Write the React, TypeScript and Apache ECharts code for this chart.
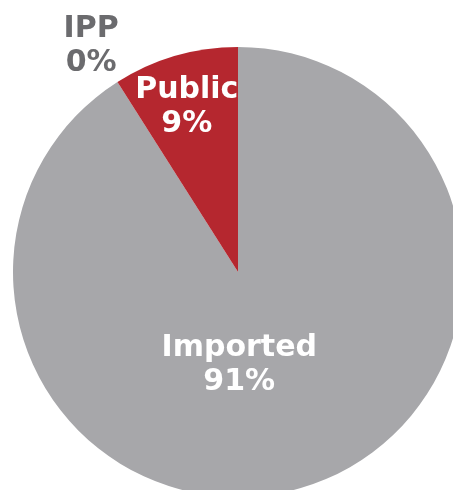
import React, { useEffect, useRef } from "react";
import * as echarts from "echarts";

const categories = ["Imported", "IPP", "Public"];
const values = [91, 0, 9];
const colors = ["#A7A7AA", "#A7A7AA", "#B5272F"];
const labelColors = ["#FFFFFF", "#6B6B6E", "#FFFFFF"];
const labelOffsets: [number, number][] = [[-31, -20], [-85, -131], [-19, -57]];

export default function App() {
  const ref = useRef<HTMLDivElement>(null);
  useEffect(() => {
    if (!ref.current) return;
    const chart = echarts.init(ref.current, undefined, { renderer: "svg" });
    chart.setOption({
      animation: false,
      series: [
        {
          type: "pie",
          center: [238, 272],
          radius: [0, 225],
          startAngle: 90,
          clockwise: true,
          minShowLabelAngle: -1,
          stillShowZeroSum: true,
          avoidLabelOverlap: false,
          labelLine: { show: false },
          itemStyle: { borderWidth: 0 },
          emphasis: { disabled: true },
          data: categories.map((name, i) => ({
            name,
            value: values[i],
            itemStyle: { color: colors[i] },
            label: {
              show: true,
              position: "inside",
              offset: labelOffsets[i],
              formatter: `{b}\n${values[i]}%`,
              color: labelColors[i],
              fontFamily: "DejaVu Sans",
              fontWeight: "bold",
              fontSize: 30,
              lineHeight: 34,
              align: "center",
            },
          })),
        },
      ],
    });
    return () => chart.dispose();
  }, []);
  return (
    <div
      ref={ref}
      style={{ position: "fixed", left: 0, top: 0, width: 453, height: 490 }}
    />
  );
}
